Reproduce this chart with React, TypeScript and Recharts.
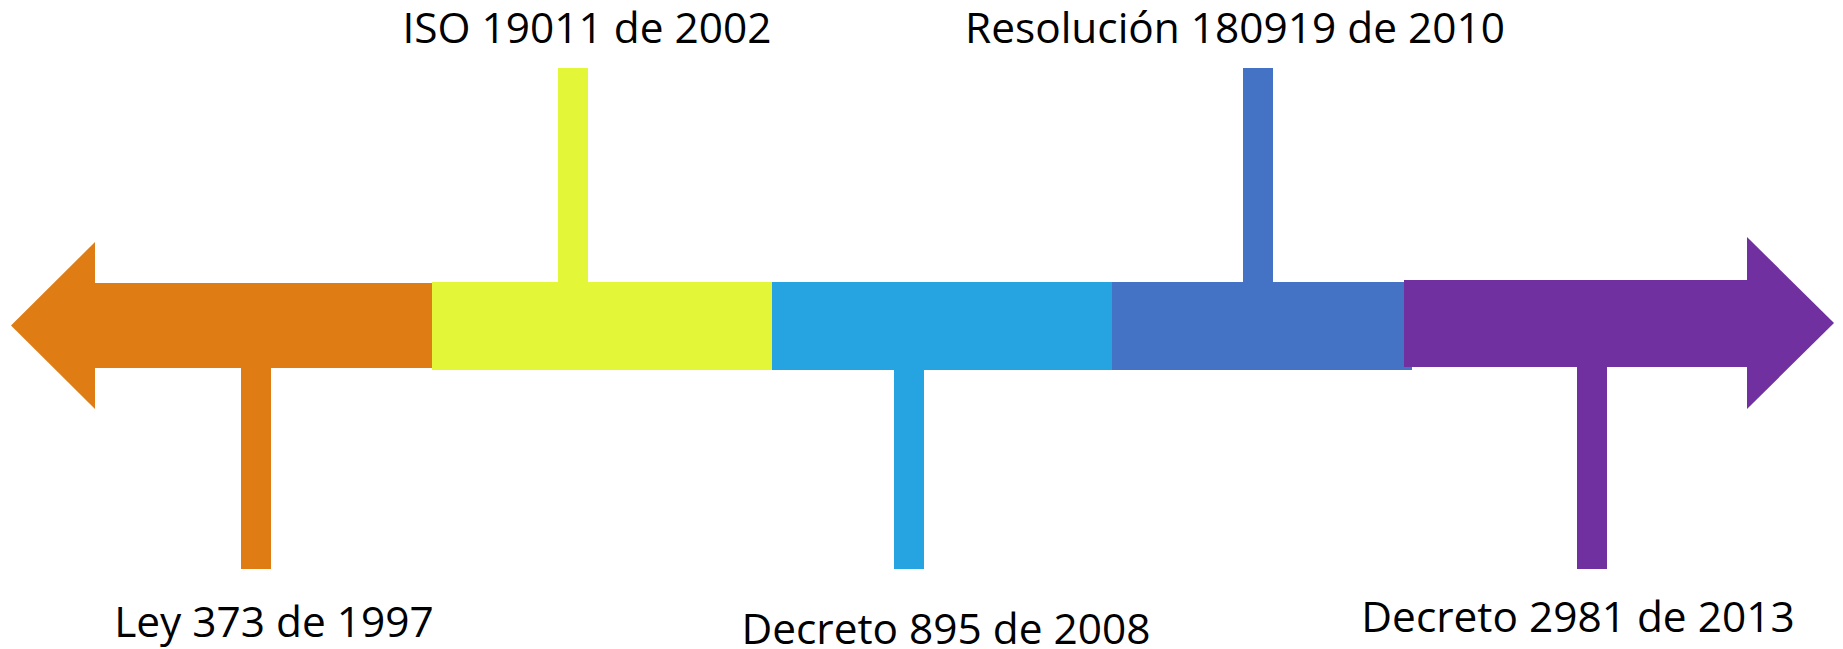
import { ScatterChart, Scatter, XAxis, YAxis, ReferenceArea } from "recharts";

// timeline positions are in picture units (x left→right, y top→bottom)
const labels = [
  "Ley 373 de 1997",
  "ISO 19011 de 2002",
  "Decreto 895 de 2008",
  "Resolución 180919 de 2010",
  "Decreto 2981 de 2013",
];
const colors = ["#DF7D14", "#E3F638", "#25A4E1", "#4472C4", "#7030A0"];
const segStart = [95, 432, 772, 1112, 1404];
const segEnd = [432, 772, 1112, 1412, 1747];
const segTop = [283, 282, 282, 282, 280];
const segBottom = [368, 370, 370, 370, 367];
const stemX = [256, 573, 909, 1258, 1592];
const stemEnd = [569, 68, 569, 68, 569];
const labelX = [274, 587, 946, 1235, 1578];
const labelY = [637, 43, 644, 43, 632];

// arrow heads: [base, tip, top, bottom]
const leftHead = [95, 11, 242, 409];
const rightHead = [1747, 1834, 237, 409];

const W = 1843;
const H = 649;
const STEM_HALF = 15;

const labelData = labels.map((name, i) => ({ name, x: labelX[i], y: labelY[i] }));

const LabelShape = (props: any) => {
  const { cx, cy, payload } = props;
  return (
    <text
      x={cx}
      y={cy}
      textAnchor="middle"
      fontFamily="'Open Sans', sans-serif"
      fontSize={42.4}
      fill="#000"
    >
      {payload.name}
    </text>
  );
};

const headShape = (dir: "left" | "right", color: string) => (props: any) => {
  const { x, y, width, height } = props;
  const pts =
    dir === "left"
      ? `${x + width},${y} ${x},${y + height / 2} ${x + width},${y + height}`
      : `${x},${y} ${x + width},${y + height / 2} ${x},${y + height}`;
  return <polygon points={pts} fill={color} />;
};

export default function App() {
  return (
    <div style={{ position: "absolute", left: 0, top: 0, background: "#fff" }}>
      <ScatterChart width={W} height={H} margin={{ top: 0, right: 0, bottom: 0, left: 0 }}>
        <XAxis type="number" dataKey="x" domain={[0, W]} hide />
        <YAxis type="number" dataKey="y" domain={[0, H]} reversed hide />

        {stemX.map((sx, i) => {
          const up = stemEnd[i] < segTop[i];
          return (
            <ReferenceArea
              key={"stem" + i}
              x1={sx - STEM_HALF}
              x2={sx + STEM_HALF}
              y1={up ? stemEnd[i] : segBottom[i] - 2}
              y2={up ? segTop[i] + 2 : stemEnd[i]}
              fill={colors[i]}
              fillOpacity={1}
              stroke="none"
            />
          );
        })}

        {segStart.map((s, i) => (
          <ReferenceArea
            key={"seg" + i}
            x1={s - (i === 0 ? 1 : 0)}
            x2={segEnd[i] + (i === 4 ? 1 : 0)}
            y1={segTop[i]}
            y2={segBottom[i]}
            fill={colors[i]}
            fillOpacity={1}
            stroke="none"
          />
        ))}

        <ReferenceArea
          x1={leftHead[1]}
          x2={leftHead[0]}
          y1={leftHead[2]}
          y2={leftHead[3]}
          shape={headShape("left", colors[0])}
        />
        <ReferenceArea
          x1={rightHead[0]}
          x2={rightHead[1]}
          y1={rightHead[2]}
          y2={rightHead[3]}
          shape={headShape("right", colors[4])}
        />

        <Scatter data={labelData} shape={LabelShape} isAnimationActive={false} />
      </ScatterChart>
    </div>
  );
}
